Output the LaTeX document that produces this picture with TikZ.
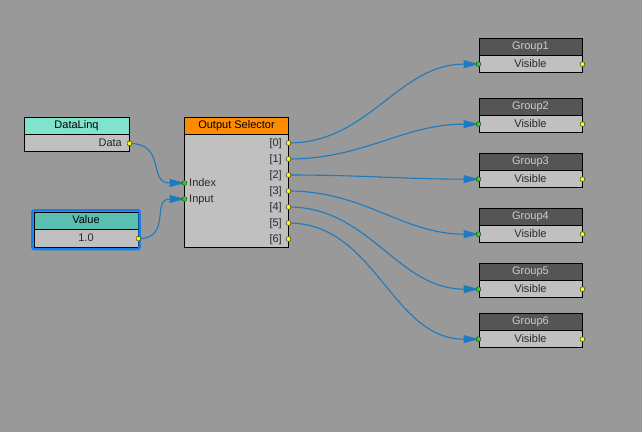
\documentclass[tikz,border=0pt]{standalone}
\usepackage{fontspec}
\setmainfont{Liberation Sans}
\usetikzlibrary{arrows.meta,fit}
\definecolor{bgc}{RGB}{153,153,153}
\definecolor{bodyc}{RGB}{192,192,192}
\definecolor{grph}{RGB}{85,85,85}
\definecolor{grpt}{RGB}{205,205,205}
\definecolor{dlq}{RGB}{128,228,204}
\definecolor{valc}{RGB}{90,190,176}
\definecolor{orc}{RGB}{255,140,0}
\definecolor{selc}{RGB}{25,125,235}
\definecolor{wirec}{RGB}{30,122,190}
\definecolor{txtc}{RGB}{40,40,40}
\definecolor{porty}{RGB}{255,255,0}
\definecolor{portg}{RGB}{20,230,20}
\definecolor{portd}{RGB}{60,60,60}
\pgfdeclarelayer{back}
\pgfdeclarelayer{wires}
\pgfsetlayers{back,wires,main}
\tikzset{
 hd/.style={draw=black, line width=0.9pt, inner sep=0pt, minimum height=16.5pt, text height=8pt, text depth=2pt},
 bd/.style={draw=black, line width=0.9pt, fill=bodyc, inner sep=0pt, anchor=north},
 outp/.style={circle, fill=porty, draw=portd, line width=0.5pt, inner sep=0pt, minimum size=4.8pt},
 inp/.style={outp, fill=portg},
 wire/.style={draw=wirec, line width=1.1pt, -{Triangle[length=15pt,width=8pt]}},
 btxt/.style={text=txtc, inner sep=0pt, text height=8pt, text depth=2pt},
}
\begin{document}
\begin{tikzpicture}[x=1pt,y=-1pt, every node/.append style={font=\fontsize{11}{12}\selectfont}]
\begin{pgfonlayer}{back}
\fill[bgc] (0,0) rectangle (642,432);
\end{pgfonlayer}
\useasboundingbox (0,0) rectangle (642,432);
% DataLinq
\node[hd, fill=dlq, minimum width=105pt] (dlh) at (76.5,125.75) {DataLinq};
\node[bd, minimum width=105pt, minimum height=17pt] (dlb) at (dlh.south) {};
\node[btxt, anchor=east] (dlt) at (122,143) {Data};
\node[outp] (dlo) at (dlb.east) {};
% Value
\node[hd, fill=valc, minimum width=104pt, minimum height=17pt] (vh) at (86,220.5) {Value};
\node[bd, minimum width=104pt, minimum height=17.5pt] (vb) at (vh.south) {};
\node[btxt] (vt) at (vb.center) {1.0};
\node[fit=(vh)(vb), draw=selc, line width=2.6pt, rounded corners=2pt, inner sep=1.2pt] (vsel) {};
\node[outp] (vo) at (vb.east) {};
% Output Selector
\node[hd, fill=orc, minimum width=104pt] (osh) at (236.5,125.75) {Output Selector};
\node[bd, minimum width=104pt, minimum height=112.5pt] (osb) at (osh.south) {};
\foreach \k in {0,...,6}{
  \node[outp] (op\k) at (288.5,143+16*\k) {};
  \node[btxt, anchor=east] (ol\k) at (282,143+16*\k) {[\k]};
}
\node[inp] (oidx) at (184.5,183) {};
\node[inp] (oinp) at (184.5,199) {};
\node[btxt, anchor=west] (lidx) at (189,183) {Index};
\node[btxt, anchor=west] (linp) at (189,199) {Input};
% Groups
\foreach \i/\t in {1/38,2/98,3/153,4/208,5/263,6/313}{
  \node[hd, fill=grph, text=grpt, minimum width=103pt, minimum height=17pt] (gh\i) at (530.5,\t+8.5) {Group\i};
  \node[bd, minimum width=103pt, minimum height=16.5pt] (gb\i) at (gh\i.south) {};
  \node[btxt] (gl\i) at (gb\i.center) {Visible};
  \node[inp] (gi\i) at (gb\i.west) {};
  \node[outp] (go\i) at (gb\i.east) {};
}
% Wires
\begin{pgfonlayer}{wires}
\draw[wire] (dlo.center) to[out=0,in=180,looseness=1.4] (oidx.center);
\draw[wire] (vo.center) to[out=0,in=180,looseness=1.4] (oinp.center);
\foreach \k/\i in {0/1,1/2,2/3,3/4,4/5,5/6}{
  \draw[wire] (op\k.center) to[out=0,in=180] (gi\i.center);
}
\end{pgfonlayer}
\end{tikzpicture}
\end{document}
